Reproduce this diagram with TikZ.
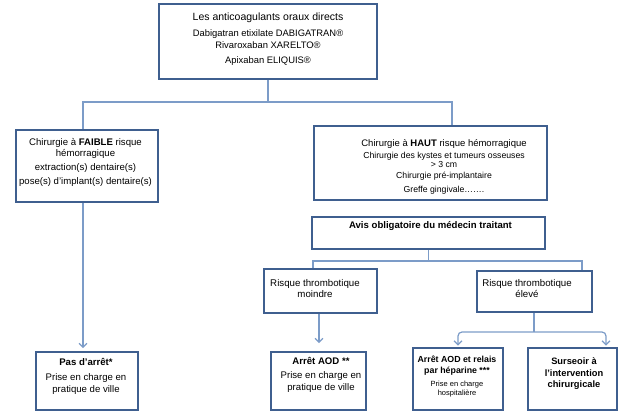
\documentclass[tikz,border=0pt]{standalone}
\usepackage{fontspec}
\setmainfont{Liberation Sans}
\usetikzlibrary{arrows.meta,calc}
\definecolor{boxc}{HTML}{3F5F8F}
\definecolor{linec}{HTML}{7C9CC8}
\begin{document}
\begin{tikzpicture}[x=1pt,y=-1pt,
  box/.style={draw=boxc,line width=1.8pt,fill=white,inner sep=0pt},
  tt/.style={inner sep=0pt,align=center,text=black},
  conn/.style={draw=linec,line width=1.2pt},
  arr/.style={conn,-{Straight Barb[length=4pt,width=8pt]}}]
\useasboundingbox (0,0) rectangle (619,413);
% boxes
\node[box,minimum width=218pt,minimum height=75pt] (top) at (268,41.5) {};
\node[box,minimum width=142pt,minimum height=72pt] (faible) at (87,166) {};
\node[box,minimum width=102pt,minimum height=58pt] (pas) at (87,381) {};
\node[box,minimum width=233pt,minimum height=74pt] (haut) at (430.5,163) {};
\node[box,minimum width=233pt,minimum height=32pt] (avis) at (428.5,233) {};
\node[box,minimum width=113pt,minimum height=44pt] (moindre) at (320.5,291) {};
\node[box,minimum width=115pt,minimum height=41pt] (eleve) at (534.5,291.5) {};
\node[box,minimum width=95pt,minimum height=58pt] (aod) at (318.5,381) {};
\node[box,minimum width=90pt,minimum height=62pt] (relais) at (458,379) {};
\node[box,minimum width=89pt,minimum height=62pt] (surseoir) at (572.5,379) {};
% texts
\node[tt,font=\fontsize{9.4}{12}\selectfont] (top-t) at (268,39.3)
  {{\fontsize{10.5}{12}\selectfont Les anticoagulants oraux directs}\\[3.5pt]
   Dabigatran etixilate DABIGATRAN®\\
   Rivaroxaban XARELTO®\\[3pt]
   Apixaban ELIQUIS®};
\node[tt,font=\fontsize{9.6}{10.5}\selectfont] (faible-t) at (85.5,162.5)
  {Chirurgie à \textbf{FAIBLE} risque\\
   hémorragique\\[4pt]
   extraction(s) dentaire(s)\\[3.5pt]
   pose(s) d’implant(s) dentaire(s)};
\node[tt,font=\fontsize{8.7}{8.5}\selectfont] (haut-t) at (444,167.3)
  {{\fontsize{9.5}{10}\selectfont Chirurgie à \textbf{HAUT} risque hémorragique}\\[3.2pt]
   Chirurgie des kystes et tumeurs osseuses\\
   > 3 cm\\[3.2pt]
   Chirurgie pré-implantaire\\[5.5pt]
   Greffe gingivale…….};
\node[tt,font=\fontsize{9.6}{11}\selectfont\bfseries] (avis-t) at (430.5,226)
  {Avis obligatoire du médecin traitant};
\node[tt,font=\fontsize{9.7}{11}\selectfont] (moindre-t) at (315,289)
  {Risque thrombotique\\ moindre};
\node[tt,font=\fontsize{9.7}{11}\selectfont] (eleve-t) at (527,289)
  {Risque thrombotique\\ élevé};
\node[tt,font=\fontsize{9.6}{12}\selectfont] (pas-t) at (86,376.5)
  {\textbf{Pas d’arrêt*}\\[2.6pt] Prise en charge en\\ pratique de ville};
\node[tt,font=\fontsize{9.6}{12}\selectfont] (aod-t) at (321,375)
  {\textbf{Arrêt AOD **}\\[2.6pt] Prise en charge en\\ pratique de ville};
\node[tt,font=\fontsize{7.5}{9}\selectfont] (relais-t) at (457,376.3)
  {{\fontsize{8.8}{11}\selectfont\bfseries Arrêt AOD et relais}\\[2.7pt]
   {\fontsize{8.8}{11}\selectfont\bfseries par héparine ***}\\[3.7pt]
   Prise en charge\\ hospitalière};
\node[tt,font=\fontsize{9.3}{11.4}\selectfont\bfseries] (surseoir-t) at (574,373.8)
  {Surseoir à\\ l’intervention\\ chirurgicale};
% connectors
\coordinate (busA) at (268,102);
\coordinate (xL) at (83,0);
\coordinate (xR) at (452,0);
\draw[conn] (top.south) -- (busA);
\draw[conn] (faible.north -| xL) |- (busA) -| (haut.north -| xR);
\draw[arr,shorten >=3pt] (faible.south -| xL) -- (pas.north -| xL);
\coordinate (busB) at (428.5,261);
\coordinate (xM) at (313,0);
\coordinate (xE) at (582,0);
\draw[conn] (avis.south) -- (busB);
\draw[conn] (moindre.north -| xM) |- (busB) -| (eleve.north -| xE);
\coordinate (xA) at (319,0);
\draw[arr,shorten >=8pt] (moindre.south -| xA) -- (aod.north -| xA);
\coordinate (busC) at (534,332);
\coordinate (xS) at (606,0);
\draw[conn] (eleve.south -| busC) -- (busC);
\draw[conn,{Straight Barb[length=4pt,width=8pt]}-{Straight Barb[length=4pt,width=8pt]},rounded corners=4pt,shorten <=1.5pt,shorten >=1.5pt]
  (relais.north) -- (relais.north |- busC) -- (busC -| xS) -- (surseoir.north -| xS);
\end{tikzpicture}
\end{document}
